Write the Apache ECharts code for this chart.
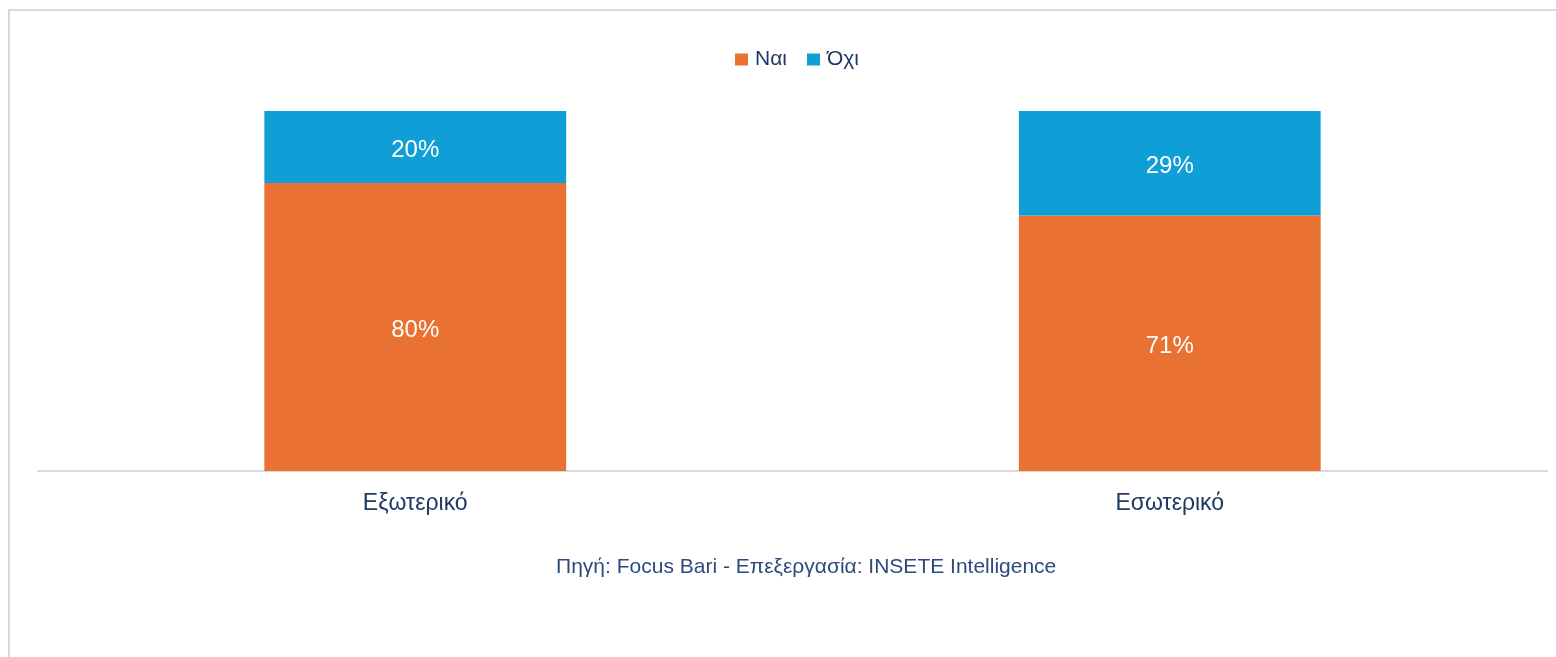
<!DOCTYPE html>
<html><head><meta charset="utf-8">
<script src="https://cdn.jsdelivr.net/npm/echarts@6/dist/echarts.min.js"></script>
<style>html,body{margin:0;padding:0;background:#fff}#c{width:1556px;height:657px}</style>
</head><body><div id="c"></div>
<script>
const categories = ['Εξωτερικό', 'Εσωτερικό'];
const yesValues = [80, 71];
const noValues = [20, 29];
const seriesNames = ['Ναι', 'Όχι'];
const sourceText = 'Πηγή: Focus Bari - Επεξεργασία: INSETE Intelligence';

const chart = echarts.init(document.getElementById('c'));
const font = '"Liberation Sans", Arial, sans-serif';
const lbl = {show: true, position: 'inside', offset: [0, 3], color: '#fff', fontSize: 24, fontFamily: font, formatter: p => p.value + '%'};
chart.setOption({
  animation: false,
  textStyle: {fontFamily: font},
  graphic: [
    {type: 'rect', shape: {x: 9, y: 10, width: 1600, height: 700}, style: {fill: 'none', stroke: '#d9d9d9', lineWidth: 2}},
    {type: 'text', left: 556, top: 557, style: {text: sourceText, fill: '#2e4a7d', fontSize: 21, fontFamily: font}}
  ],
  legend: {
    top: 44, left: 730, itemWidth: 13, itemHeight: 12, itemGap: 20, icon: 'rect',
    textStyle: {color: '#1f3864', fontSize: 21, fontFamily: font, padding: [0, 0, 0, 2]},
    data: seriesNames
  },
  grid: {left: 38, right: 9, top: 111, bottom: 186},
  xAxis: {
    type: 'category', data: categories,
    axisLine: {lineStyle: {color: '#d9d9d9', width: 2}},
    axisTick: {show: false},
    axisLabel: {color: '#1f3864', fontSize: 23, margin: 21, fontFamily: font}
  },
  yAxis: {type: 'value', min: 0, max: 100, show: false, splitLine: {show: false}},
  series: [
    {name: seriesNames[0], type: 'bar', stack: 's', data: yesValues, barWidth: '40%', itemStyle: {color: '#E97132'}, label: lbl},
    {name: seriesNames[1], type: 'bar', stack: 's', data: noValues, barWidth: '40%', itemStyle: {color: '#0F9ED5'}, label: lbl}
  ]
});
</script></body></html>
